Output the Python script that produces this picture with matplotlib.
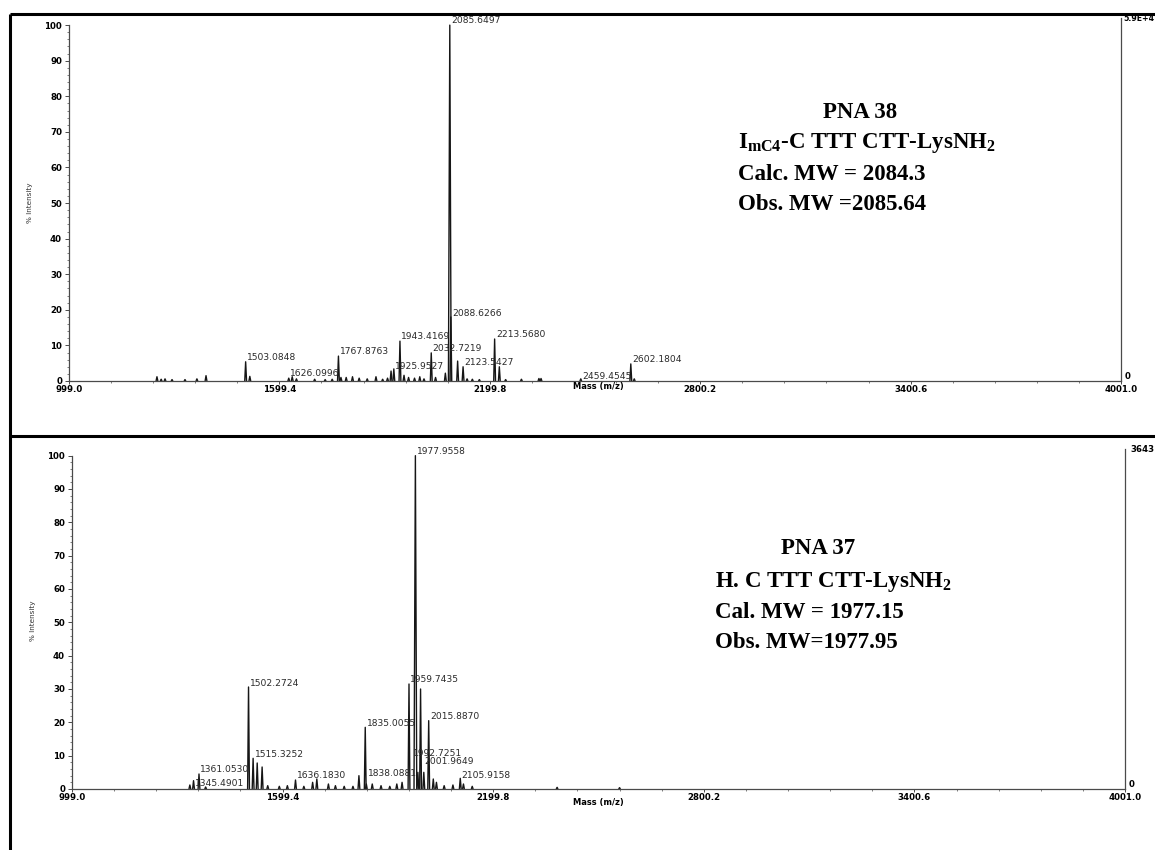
import matplotlib
matplotlib.use("Agg")
import matplotlib.pyplot as plt
from matplotlib.collections import LineCollection
from matplotlib.lines import Line2D
import numpy as np

plt.rcParams["mathtext.fontset"] = "custom"
plt.rcParams["mathtext.rm"] = "Liberation Serif:bold"
plt.rcParams["mathtext.bf"] = "Liberation Serif:bold"
plt.rcParams["mathtext.it"] = "Liberation Serif:bold"

# ---------------- spectrum data ----------------
# PNA 38 : peak m/z and relative intensity (%)
pna38_mz = [1250, 1262, 1273, 1293, 1330, 1364, 1390, 1503.0848, 1515,
            1626.0996, 1636, 1648, 1700, 1730, 1750, 1767.8763, 1775, 1790,
            1808, 1827, 1850, 1875, 1894, 1908, 1918, 1925.9527, 1943.4169,
            1955, 1968, 1985, 2000, 2012, 2032.7219, 2045, 2073, 2085.6497,
            2088.6266, 2108, 2123.5427, 2135, 2150, 2170, 2213.5680, 2227,
            2245, 2290, 2340, 2346, 2459.4545, 2602.1804, 2612]
pna38_int = [1.2, 0.5, 0.6, 0.4, 0.4, 0.6, 1.5, 5.4, 1.3,
             0.8, 1.2, 0.6, 0.5, 0.4, 0.5, 7.0, 1.0, 1.0,
             1.2, 0.8, 0.6, 1.2, 0.5, 0.8, 2.8, 3.4, 11.2,
             1.6, 1.0, 0.8, 1.2, 0.6, 7.9, 1.0, 2.2, 100.0,
             18.0, 5.6, 4.0, 0.6, 0.5, 0.4, 11.8, 4.0,
             0.4, 0.5, 0.7, 0.7, 0.6, 4.8, 0.6]
pna38_labels = ["1503.0848", "1626.0996", "1767.8763", "1925.9527",
                "1943.4169", "2032.7219", "2085.6497", "2088.6266",
                "2123.5427", "2213.5680", "2459.4545", "2602.1804"]

# PNA 37 : peak m/z and relative intensity (%)
pna37_mz = [1335, 1345.4901, 1361.0530, 1380, 1502.2724, 1515.3252, 1527,
            1541, 1557, 1590, 1613, 1636.1830, 1660, 1685, 1697, 1730, 1750,
            1775, 1800, 1817, 1835.0055, 1838.0881, 1855, 1880, 1905, 1925,
            1940, 1959.7435, 1977.9558, 1985, 1992.7251, 2001.9649,
            2015.8870, 2029, 2038, 2060, 2085, 2105.9158, 2115, 2140,
            2382, 2560]
pna37_int = [1.2, 2.5, 4.5, 0.6, 30.6, 9.2, 7.8,
             6.6, 1.0, 0.8, 1.0, 2.7, 0.8, 2.0, 3.0, 1.5, 1.0,
             0.8, 0.8, 4.0, 18.5, 1.5, 1.5, 1.0, 0.8, 1.5,
             2.0, 31.5, 100.0, 5.0, 30.0, 5.0,
             20.5, 3.0, 2.0, 1.0, 1.2, 3.2, 1.5, 0.8,
             0.5, 0.4]
pna37_labels = ["1345.4901", "1361.0530", "1502.2724", "1515.3252",
                "1636.1830", "1835.0055", "1838.0881", "1959.7435",
                "1977.9558", "1992.7251", "2001.9649", "2015.8870",
                "2105.9158"]

xticks = [999.0, 1599.4, 2199.8, 2800.2, 3400.6, 4001.0]

# ---------------- figure ----------------
W, H = 1155, 850
fig = plt.figure(figsize=(W / 100, H / 100), dpi=100)


def fx(x):
    return x / W


def fy(y):
    return 1 - y / H


INK = "#161616"
AXC = "#4a4a4a"
TICKFONT = dict(family="DejaVu Sans", weight="bold", size=6.2)
LABFONT = dict(family="DejaVu Sans", size=6.6, color="#2a2a2a")


def draw_spectrum(ax, mz, inten, labels, label_pos, halfwidth=2.6):
    segs = []
    for m, h in zip(mz, inten):
        w = halfwidth * (1.5 if h > 50 else 1.0)
        segs.append([(m - w, 0), (m, h), (m + w, 0)])
    ax.add_collection(LineCollection(segs, colors=INK, linewidths=1.0))
    for lab in labels:
        m = float(lab)
        h = inten[mz.index(m)]
        dx_pt, y = label_pos.get(lab, (1.0, h + 1.2))
        ax.annotate(lab, xy=(m, y), xytext=(dx_pt, 0),
                    textcoords="offset points", ha="left", va="center",
                    **LABFONT)


def style_axes(ax, right_top_text, right_top_x, right_top_size):
    ax.set_xlim(999.0, 4001.0)
    ax.set_ylim(0, 102)
    ax.spines["top"].set_visible(False)
    for s in ("left", "right", "bottom"):
        ax.spines[s].set_color(AXC)
        ax.spines[s].set_linewidth(0.9)
    ax.spines["left"].set_bounds(0, 100)
    ax.set_yticks(np.arange(0, 101, 10))
    ax.set_yticks(np.arange(0, 101, 2), minor=True)
    ax.set_yticklabels([str(v) for v in range(0, 101, 10)], **TICKFONT)
    ax.set_xticks(xticks)
    ax.set_xticks(np.arange(999.0, 4001.0, 120.08), minor=True)
    ax.set_xticklabels(["%.1f" % v for v in xticks], **TICKFONT)
    ax.tick_params(axis="y", which="major", length=3, width=0.7,
                   color=AXC, pad=2)
    ax.tick_params(axis="y", which="minor", length=1.5, width=0.5, color=AXC)
    ax.tick_params(axis="x", which="major", length=2, width=0.7,
                   color=AXC, pad=1)
    ax.tick_params(axis="x", which="minor", length=1.2, width=0.5, color=AXC)
    ax.patch.set_alpha(0)
    # right-hand absolute intensity axis labels
    ax.text(1.003, 0.012, "0", transform=ax.transAxes, ha="left",
            va="center", **TICKFONT)
    font = dict(TICKFONT, size=right_top_size)
    fig.text(fx(right_top_x), ax.get_position().y1 - 0.001, right_top_text,
             ha="left", va="center", **font)


# ---- top spectrum: PNA 38 ----
ax1 = fig.add_axes([fx(69), fy(381), fx(1121 - 69), (381 - 18) / H])
style_axes(ax1, "5.9E+4", 1123, 5.6)
draw_spectrum(ax1, pna38_mz, pna38_int, pna38_labels,
              {"1925.9527": (1.0, 4.0), "2459.4545": (1.0, 1.2),
               "2088.6266": (1.0, 19.0)})

# ---- bottom spectrum: PNA 37 ----
ax2 = fig.add_axes([fx(72), fy(789), fx(1125 - 72), (789 - 449) / H])
style_axes(ax2, "3643", 1130, 6.2)
draw_spectrum(ax2, pna37_mz, pna37_int, pna37_labels,
              {"1992.7251": (-5.5, 10.8), "2001.9649": (0.5, 8.1),
               "1838.0881": (1.0, 4.8), "2105.9158": (1.0, 3.9),
               "1345.4901": (1.0, 1.8)})

# axis titles
for yc in (386, 803):
    fig.text(fx(598), fy(yc), "Mass (m/z)", ha="center", va="center",
             family="DejaVu Sans", weight="bold", size=6.0)
for xc, yc in ((30, 203), (33, 621)):
    fig.text(fx(xc), fy(yc), "% Intensity", ha="center", va="center",
             rotation=90, family="DejaVu Sans", size=5.2, color="#333333")

# annotation blocks
SERIF = dict(family="Liberation Serif", weight="bold", size=16.5,
             color="black", va="center")
fig.text(fx(860), fy(112), "PNA 38", ha="center", **SERIF)
fig.text(fx(738), fy(143),
         r"I$_{\mathrm{mC4}}$-C TTT CTT-LysNH$_{\mathrm{2}}$",
         ha="left", **SERIF)
fig.text(fx(738), fy(175), "Calc. MW = 2084.3", ha="left", **SERIF)
fig.text(fx(738), fy(205), "Obs. MW =2085.64", ha="left", **SERIF)

fig.text(fx(818), fy(548), "PNA 37", ha="center", **SERIF)
fig.text(fx(715), fy(582), r"H. C TTT CTT-LysNH$_{\mathrm{2}}$",
         ha="left", **SERIF)
fig.text(fx(715), fy(612), "Cal. MW = 1977.15", ha="left", **SERIF)
fig.text(fx(715), fy(642), "Obs. MW=1977.95", ha="left", **SERIF)

# table frame
for xs, ys in (((10, W), (14, 14)), ((10, 10), (14, H)),
               ((10, W), (436, 436))):
    fig.add_artist(Line2D([fx(v) for v in xs], [fy(v) for v in ys],
                          color="black", linewidth=2.2,
                          solid_capstyle="butt"))

fig.savefig("out.png", dpi=100)
